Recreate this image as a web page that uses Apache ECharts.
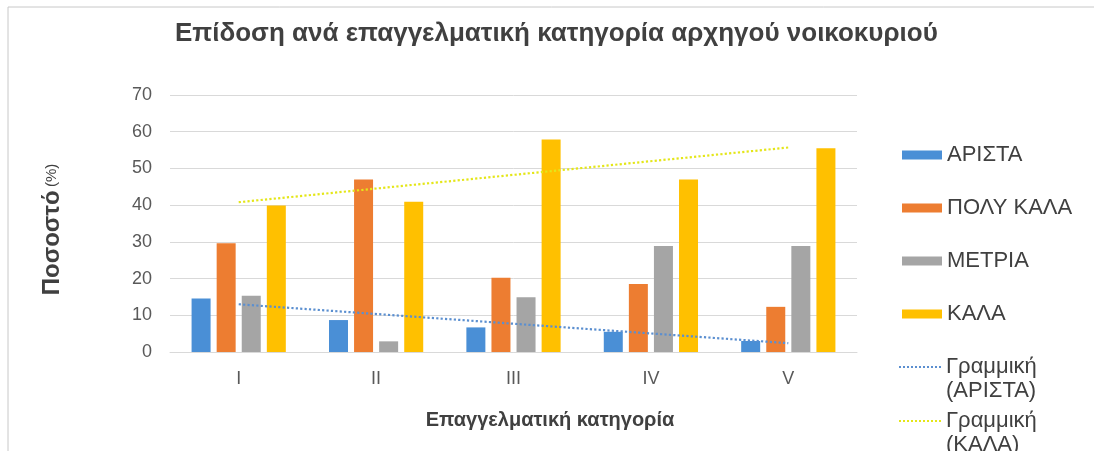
<!DOCTYPE html>
<html>
<head>
<meta charset="utf-8">
<script src="https://cdn.jsdelivr.net/npm/echarts@6/dist/echarts.min.js"></script>
<style>
  html, body { margin: 0; padding: 0; background: #fff; }
  #chart { width: 1094px; height: 451px; }
</style>
</head>
<body>
<div id="chart"></div>
<script>
const FONT = "Liberation Sans, Arial, sans-serif";
const LABEL_COLOR = "#595959";
const GRID_COLOR = "#d9d9d9";

const categories = ["I", "II", "III", "IV", "V"];
const arista = [14.6, 8.7, 6.7, 5.5, 3.0];
const polyKala = [29.6, 47.0, 20.2, 18.5, 12.3];
const metria = [15.3, 2.9, 14.9, 28.9, 28.9];
const kala = [39.9, 40.9, 57.9, 47.0, 55.5];
// trend line end points (I and V)
const trendArista = [13.0, null, null, null, 2.4];
const trendKala = [40.8, null, null, null, 55.7];
const yTicks = { min: 0, max: 70, interval: 10 };

const chart = echarts.init(document.getElementById("chart"), null, { renderer: "canvas" });

function bar(name, data, color) {
  return {
    name, type: "bar", data,
    barWidth: 19, barGap: "32%",
    itemStyle: { color },
    animation: false,
  };
}
function trend(name, data, color) {
  return {
    name, type: "line", data,
    connectNulls: true,
    symbol: "none",
    lineStyle: { color, width: 2.2, type: "dotted" },
    itemStyle: { color },
    animation: false,
  };
}

chart.setOption({
  backgroundColor: "#fff",
  textStyle: { fontFamily: FONT },
  graphic: [{
    type: "rect",
    shape: { x: 8, y: 7, width: 1100, height: 460 },
    style: { fill: "none", stroke: "#c8c8c8", lineWidth: 1 },
    silent: true,
  }],
  title: {
    text: "Επίδοση ανά επαγγελματική κατηγορία αρχηγού νοικοκυριού",
    left: 175,
    top: 21,
    padding: 0,
    textStyle: { fontFamily: FONT, fontSize: 26, fontWeight: "bold", color: "#404040" },
  },
  grid: { left: 170, right: 237, top: 95, bottom: 99, containLabel: false },
  legend: [
    {
      data: ["ΑΡΙΣΤΑ", "ΠΟΛΥ ΚΑΛΑ", "ΜΕΤΡΙΑ", "ΚΑΛΑ"],
      orient: "vertical",
      left: 902, top: 143,
      padding: 0,
      itemWidth: 40, itemHeight: 9, itemGap: 29, itemTextGap: 6,
      icon: "rect",
      textStyle: { fontFamily: FONT, fontSize: 22, lineHeight: 24, color: "#404040" },
    },
    {
      data: ["Γραμμική (ΑΡΙΣΤΑ)", "Γραμμική (ΚΑΛΑ)"],
      orient: "vertical",
      left: 898, top: 331, height: 160,
      padding: 0,
      itemWidth: 42, itemHeight: 9, itemGap: -18, itemTextGap: 8,
      itemStyle: { opacity: 0 },
      // blank first line keeps the icon level with "Γραμμική"
      formatter: (n) => "\n" + n.replace(" ", "\n"),
      textStyle: { fontFamily: FONT, fontSize: 22, lineHeight: 24, color: "#404040" },
    },
  ],
  xAxis: {
    type: "category",
    data: categories,
    name: "Επαγγελματική κατηγορία",
    nameLocation: "middle",
    nameGap: 58,
    nameTextStyle: { fontFamily: FONT, fontSize: 20, fontWeight: "bold", color: "#404040", padding: [0, 0, 0, 73] },
    axisLine: { lineStyle: { color: GRID_COLOR } },
    axisTick: { show: false },
    axisLabel: { color: LABEL_COLOR, fontFamily: FONT, fontSize: 18, margin: 18 },
  },
  yAxis: {
    type: "value",
    min: yTicks.min, max: yTicks.max, interval: yTicks.interval,
    name: "{b|Ποσοστό} {s|(%)}",
    nameLocation: "middle",
    nameRotate: 90,
    nameGap: 106,
    nameTextStyle: {
      padding: [0, 12, 0, 0],
      rich: {
        b: { fontFamily: FONT, fontSize: 24, fontWeight: "bold", color: "#404040" },
        s: { fontFamily: FONT, fontSize: 15, color: "#404040" },
      },
    },
    axisLine: { show: false },
    axisTick: { show: false },
    splitLine: { lineStyle: { color: GRID_COLOR } },
    axisLabel: { color: LABEL_COLOR, fontFamily: FONT, fontSize: 18, margin: 18 },
  },
  series: [
    bar("ΑΡΙΣΤΑ", arista, "#4a8fd6"),
    bar("ΠΟΛΥ ΚΑΛΑ", polyKala, "#ed7d31"),
    bar("ΜΕΤΡΙΑ", metria, "#a5a5a5"),
    bar("ΚΑΛΑ", kala, "#ffc000"),
    trend("Γραμμική (ΑΡΙΣΤΑ)", trendArista, "#5b8fd0"),
    trend("Γραμμική (ΚΑΛΑ)", trendKala, "#e4e619"),
  ],
});
</script>
</body>
</html>
